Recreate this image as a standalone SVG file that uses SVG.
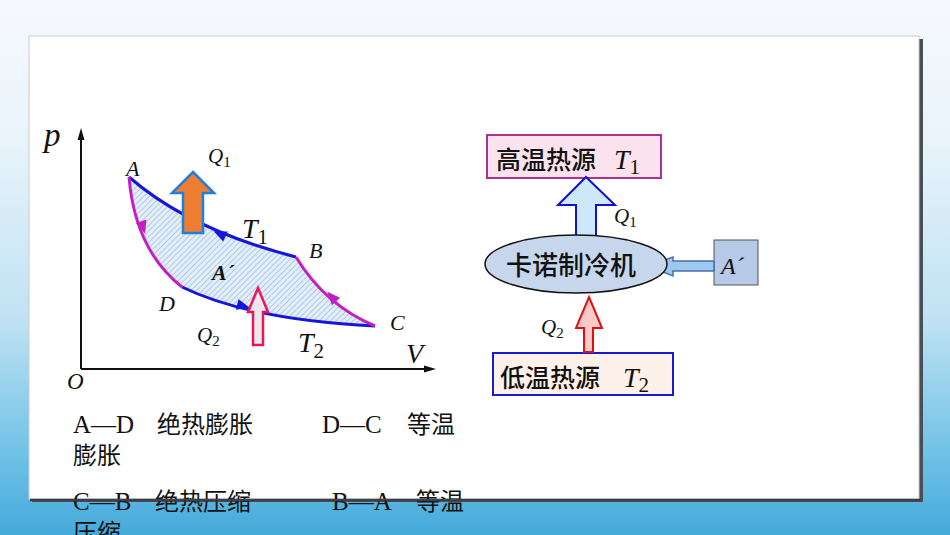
<svg xmlns="http://www.w3.org/2000/svg" width="950" height="535" viewBox="0 0 950 535">
<defs>
<linearGradient id="bg" x1="0" y1="0" x2="0" y2="1">
<stop offset="0" stop-color="#f6f9fd"/>
<stop offset="0.25" stop-color="#eaf4fb"/>
<stop offset="0.6" stop-color="#bfe2f3"/>
<stop offset="0.85" stop-color="#6fc1e6"/>
<stop offset="1" stop-color="#45aadb"/>
</linearGradient>
<pattern id="hatch" width="4" height="4" patternUnits="userSpaceOnUse" patternTransform="rotate(45)">
<rect width="4" height="4" fill="#e4eef9"/>
<line x1="0" y1="0" x2="0" y2="4" stroke="#8db3de" stroke-width="1.2"/>
</pattern>
<style>
.math{font-family:"Liberation Serif","Times New Roman",serif;font-style:italic;fill:#111}
.sub{font-family:"Liberation Serif","Times New Roman",serif;font-style:normal}
.cjk{font-family:"Noto Sans CJK SC","Noto Sans",sans-serif;fill:#111;font-weight:500}
.note{font-family:"Liberation Serif","Times New Roman",serif;font-size:25px;fill:#111}
.notec{font-family:"Noto Sans CJK SC","Noto Sans",sans-serif;font-size:24px;fill:#111}
.iso{fill:none;stroke:#1515dc;stroke-width:3}
.adi{fill:none;stroke:#c21fc2;stroke-width:3}
</style>
</defs>
<rect width="950" height="535" fill="url(#bg)"/>
<rect x="32" y="39" width="891" height="463" fill="#4a4f55"/>
<rect x="29" y="36" width="890" height="463" fill="#ffffff" stroke="#c9ccd0" stroke-width="1"/>

<g id="pv-diagram">
<path d="M129,177 Q190,230 296,257 Q325,305 375,326 Q250,320 182,287 Q135,250 129,177 Z" fill="url(#hatch)"/>
<g id="axes" stroke="#111" stroke-width="2" fill="#111">
<line x1="81" y1="369" x2="81" y2="136"/>
<polygon points="81,128 77.5,140 84.5,140" stroke="none"/>
<line x1="81" y1="369" x2="426" y2="369"/>
<polygon points="436,369 424,365.5 424,372.5" stroke="none"/>
</g>
<g id="connectors">
<path class="iso" d="M129,177 Q190,230 296,257"/>
<path class="iso" d="M182,287 Q250,320 375,326"/>
<path class="adi" d="M129,177 Q135,250 182,287"/>
<path class="adi" d="M375,326 Q325,305 296,257"/>
<polygon points="7,0 -6,-5.5 -6,5.5" fill="#1515dc" transform="translate(220,234) rotate(204)"/>
<polygon points="7,0 -6,-5.5 -6,5.5" fill="#1515dc" transform="translate(243,306) rotate(15)"/>
<polygon points="7,0 -6,-5.5 -6,5.5" fill="#c21fc2" transform="translate(143,227) rotate(72)"/>
<polygon points="7,0 -6,-5.5 -6,5.5" fill="#c21fc2" transform="translate(332,297) rotate(228)"/>
</g>
<g id="arrow-q1">
<polygon points="193,172 214,193 203,193 203,233 183,233 183,193 172,193" fill="#ed7d31" stroke="#1e7fe0" stroke-width="2.5" stroke-linejoin="miter"/>
</g>
<g id="arrow-q2">
<polygon points="258,288 268,312 263,312 263,345 253,345 253,312 248,312" fill="#ece8ec" stroke="#e8175d" stroke-width="2.5"/>
</g>
<g id="labels-pv">
<text class="math" x="44" y="146" font-size="33">p</text>
<text class="math" x="67" y="389" font-size="23">O</text>
<text class="math" x="406" y="363" font-size="28">V</text>
<text class="math" x="126" y="176" font-size="22">A</text>
<text class="math" x="309" y="258" font-size="22">B</text>
<text class="math" x="390" y="330" font-size="22">C</text>
<text class="math" x="159" y="311" font-size="22">D</text>
<text class="math" x="212" y="280" font-size="22" font-weight="bold">A´</text>
<text class="math" x="208" y="163" font-size="21">Q<tspan class="sub" font-size="15" dy="4">1</tspan></text>
<text class="math" x="197" y="342" font-size="21">Q<tspan class="sub" font-size="15" dy="4">2</tspan></text>
<text class="math" x="242" y="238" font-size="28">T<tspan class="sub" font-size="21" dy="6">1</tspan></text>
<text class="math" x="298" y="352" font-size="28">T<tspan class="sub" font-size="21" dy="6">2</tspan></text>
</g>
</g>

<g id="hot-source">
<rect x="487" y="135" width="174" height="43" fill="#fbe3ee" stroke="#b0308f" stroke-width="2"/>
<text class="cjk" x="496" y="169" font-size="25">高温热源</text>
<text class="math" x="614" y="169" font-size="28">T<tspan class="sub" font-size="21" dy="5">1</tspan></text>
</g>
<g id="cold-source">
<rect x="493" y="353" width="180" height="42" fill="#fdf1ea" stroke="#1a1ad0" stroke-width="2"/>
<text class="cjk" x="500" y="387" font-size="25">低温热源</text>
<text class="math" x="623" y="387" font-size="28">T<tspan class="sub" font-size="21" dy="5">2</tspan></text>
</g>
<g id="work-box">
<rect x="714" y="240" width="44" height="45" fill="#b6c9e7" stroke="#555" stroke-width="1"/>
<text class="math" x="721" y="274" font-size="24">A´</text>
</g>
<g id="connectors-right">
<polygon points="586,177 615,205 596,205 596,238 576,238 576,205 558,205" fill="#cde7fb" stroke="#1010d0" stroke-width="2"/>
<polygon points="589,297 602,328 593,328 593,352 584,352 584,328 576,328" fill="#fcc9c9" stroke="#e01010" stroke-width="2"/>
<polygon points="648,266 673,257 673,261 714,261 714,271 673,271 673,276" fill="#9dc8ef" stroke="#4a6fa8" stroke-width="1.5"/>
</g>
<g id="refrigerator">
<ellipse cx="576" cy="264" rx="91" ry="29" fill="#c6d6ec" stroke="#111" stroke-width="1.5"/>
<text class="cjk" x="571" y="275" font-size="26" text-anchor="middle">卡诺制冷机</text>
</g>
<g id="labels-right">
<text class="math" x="614" y="223" font-size="21">Q<tspan class="sub" font-size="15" dy="4">1</tspan></text>
<text class="math" x="541" y="334" font-size="21">Q<tspan class="sub" font-size="15" dy="4">2</tspan></text>
</g>

<g id="notes">
<text class="note" x="73" y="433">A—D</text>
<text class="notec" x="157" y="433">绝热膨胀</text>
<text class="note" x="322" y="433">D—C</text>
<text class="notec" x="407" y="433">等温</text>
<text class="notec" x="73" y="464">膨胀</text>
<text class="note" x="73" y="510">C—B</text>
<text class="notec" x="155" y="510">绝热压缩</text>
<text class="note" x="332" y="510">B—A</text>
<text class="notec" x="416" y="510">等温</text>
<text class="notec" x="73" y="541">压缩</text>
</g>
<line x1="30" y1="500" x2="921" y2="500" stroke="#3b4046" stroke-width="2.5"/>
</svg>
